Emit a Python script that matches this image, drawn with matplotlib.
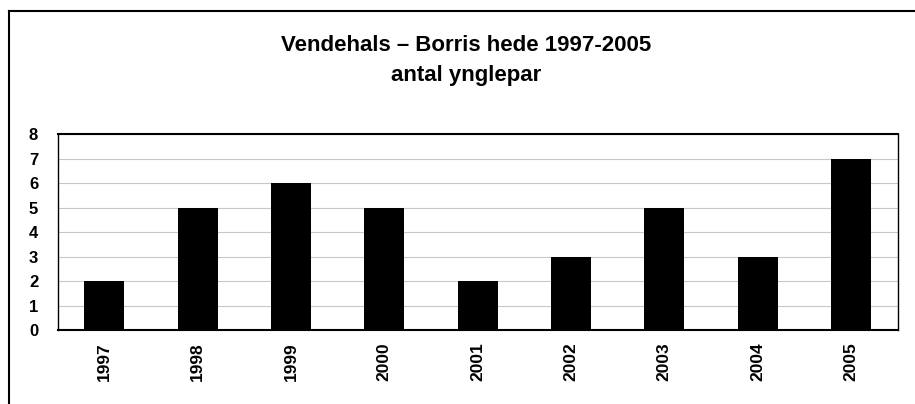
import matplotlib.pyplot as plt
from matplotlib.lines import Line2D

plt.rcParams['font.family'] = ['Liberation Sans', 'DejaVu Sans']

years = ['1997', '1998', '1999', '2000', '2001', '2002', '2003', '2004', '2005']
pairs = [2, 5, 6, 5, 2, 3, 5, 3, 7]
yticks = [0, 1, 2, 3, 4, 5, 6, 7, 8]

fig = plt.figure(figsize=(9.15, 4.04), dpi=100)
fig.patch.set_facecolor('white')

# outer frame (only top and left are inside the scan)
fig.add_artist(Line2D([0.010, 0.010], [0.0, 0.973], color='black', lw=1.5,
                      transform=fig.transFigure))
fig.add_artist(Line2D([0.010, 1.0], [0.973, 0.973], color='black', lw=1.5,
                      transform=fig.transFigure))

ax = fig.add_axes([0.063, 0.183, 0.918, 0.485])
x = range(len(years))
ax.bar(x, pairs, width=0.43, color='black', zorder=3)

ax.set_xlim(-0.5, len(years) - 0.5)
ax.set_ylim(0, 8)
ax.set_yticks(yticks)
ax.set_yticklabels([str(t) for t in yticks], fontweight='bold', fontsize=12)
ax.set_xticks(list(x))
ax.set_xticklabels(years, rotation=90, fontweight='bold', fontsize=12.5)
ax.tick_params(axis='both', length=0)
ax.tick_params(axis='y', pad=14)
ax.tick_params(axis='x', pad=9)
ax.yaxis.grid(True, color='#c8c8c8', lw=0.8, zorder=0)

for s in ['top', 'left', 'right', 'bottom']:
    ax.spines[s].set_linewidth(1.5)
    ax.spines[s].set_color('black')
ax.spines['left'].set_linewidth(1.0)
ax.spines['right'].set_linewidth(1.0)

fig.text(0.509, 0.888, 'Vendehals \u2013 Borris hede 1997-2005', ha='center',
         va='center', fontsize=16, fontweight='bold')
fig.text(0.509, 0.813, 'antal ynglepar', ha='center', va='center',
         fontsize=16, fontweight='bold')

fig.savefig('out.png', dpi=100, facecolor='white')
